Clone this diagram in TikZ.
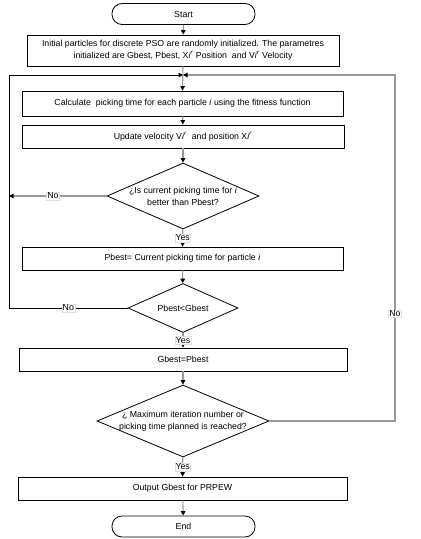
\documentclass[tikz,border=0pt]{standalone}
\usepackage{fontspec}
\setmainfont{Liberation Sans}
\usetikzlibrary{shapes.geometric, arrows.meta, positioning}

\begin{document}
\begin{tikzpicture}[
    x=1bp, y=-1bp,
    box/.style={rectangle, draw=black, line width=0.8bp, fill=white, inner sep=1bp, align=center, font=\fontsize{8.8}{12}\selectfont, minimum height=23bp},
    term/.style={rectangle, rounded corners=10bp, draw=black, line width=0.8bp, minimum width=143bp, minimum height=21bp, font=\fontsize{8.8}{12}\selectfont},
    decision/.style={diamond, draw=black, line width=0.8bp, inner sep=-10bp, align=center, font=\fontsize{8.8}{12}\selectfont},
    arrow/.style={-{Triangle[black, length=4.5bp, width=4.5bp]}, line width=1.1bp, draw=gray!80},
    loopline/.style={-{Triangle[black, length=4.5bp, width=4.5bp]}, line width=0.8bp, draw=black},
    tag/.style={fill=white, draw=gray!25, line width=0.3bp, inner sep=0.8bp, font=\fontsize{8.8}{10}\selectfont}
]
    \useasboundingbox (0,0) rectangle (420,539);

    % START AND INITIALISATION
    \node (start) [term] at (183.5,14) {Start};
    \node (init) [box, minimum width=312bp, minimum height=31bp] at (183,50.5) {Initial particles for discrete PSO are randomly initialized. The parametres\\ initialized are Gbest, Pbest, X\textit{i}\textsuperscript{\textit{r}} Position\ \ and V\textit{i}\textsuperscript{\textit{r}} Velocity};

    % MAIN LOOP
    \node (calc) [box, minimum width=321bp, minimum height=25bp] at (182.5,103.5) {Calculate\ \ picking time for each particle \textit{i} using the fitness function};
    \node (update) [box, minimum width=322bp] at (183,136.5) {Update velocity V\textit{i}\textsuperscript{\textit{r}}\ \ and position X\textit{i}\textsuperscript{\textit{r}}};
    \node (dec1) [decision, minimum width=152bp, minimum height=66bp, aspect=2.3] at (183,196) {¿Is current picking time for \textit{i}\\ better than Pbest?};
    \node (pbest) [box, minimum width=321bp] at (182.5,258.5) {Pbest= Current picking time for particle \textit{i}};
    \node (dec2) [decision, minimum width=110bp, minimum height=49bp, aspect=2.2] at (183,308) {Pbest<Gbest};
    \node (gbest) [box, minimum width=328bp] at (183,359.5) {Gbest=Pbest};
    \node (dec3) [decision, minimum width=172bp, minimum height=72bp, aspect=2.4] at (183,421) {¿ Maximum iteration number or\\ picking time planned is reached?};

    % OUTPUT
    \node (out) [box, minimum width=329bp] at (182.5,488.5) {Output Gbest for PRPEW};
    \node (end) [term] at (183.5,526.5) {End};

    % LOOP CORNERS
    \coordinate (join) at (183,75);
    \coordinate (ltop) at (9,75);
    \coordinate (rtop) at (395,75);

    % FORWARD PATHWAYS
    \draw [arrow] (start) -- (init);
    \draw [arrow] (init.south) -- (calc.north);
    \draw [arrow] (calc) -- (update);
    \draw [arrow] (update) -- (dec1);
    \draw [arrow] (dec1) -- node[tag] {Yes} (pbest);
    \draw [arrow] (pbest) -- (dec2);
    \draw [arrow] (dec2) -- node[tag] {Yes} (gbest);
    \draw [arrow] (gbest) -- (dec3);
    \draw [arrow] (dec3) -- node[tag] {Yes} (out);
    \draw [arrow] (out) -- (end);

    % RETURN PATHWAYS
    \draw [arrow] (dec1.west) -- node[tag, pos=0.55] {No} (dec1.west -| ltop);
    \draw [loopline] (dec2.west) -- node[tag, pos=0.5] {No} (dec2.west -| ltop) -- (ltop) -- (join);
    \draw [arrow] (dec3.east) -- (dec3.east -| rtop) -- node[tag, pos=0.31] {No} (rtop) -- (join);

\end{tikzpicture}
\end{document}
